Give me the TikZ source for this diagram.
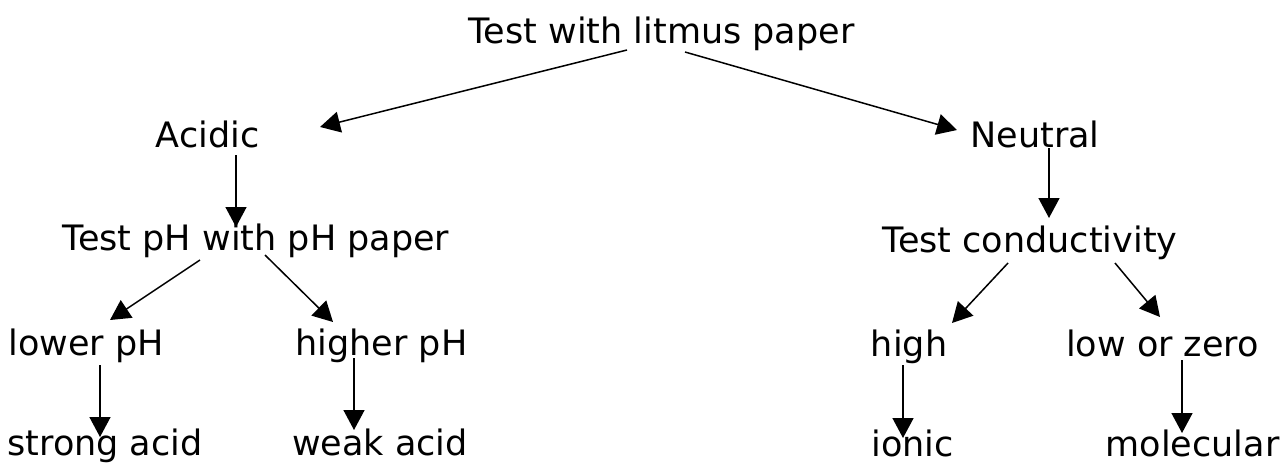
\documentclass[tikz,border=0pt]{standalone}
\usepackage{fontspec}
\setmainfont{DejaVu Sans}
\usetikzlibrary{arrows.meta}
\begin{document}
\begin{tikzpicture}[x=1pt,y=-1pt,
  lbl/.style={anchor=base, inner sep=0pt, font=\fontsize{35}{40}\selectfont},
  arr/.style={line width=1.5pt, -{Triangle[length=20pt,width=21pt]}}]
\useasboundingbox (0,0) rectangle (1281,467);
\node[lbl] (top) at (661.5,43) {Test with litmus paper};
\node[lbl] (acid) at (207.5,147) {Acidic};
\node[lbl] (neut) at (1035,147) {Neutral};
\node[lbl] (tph) at (256,250) {Test pH with pH paper};
\node[lbl] (tcond) at (1030,252) {Test conductivity};
\node[lbl] (lower) at (86,355) {lower pH};
\node[lbl] (higher) at (381.5,355) {higher pH};
\node[lbl] (high) at (909,356) {high};
\node[lbl] (lowz) at (1162.5,356) {low or zero};
\node[lbl] (strong) at (105,455) {strong acid};
\node[lbl] (weak) at (380,455) {weak acid};
\node[lbl] (ionic) at (912.5,456) {ionic};
\node[lbl] (molec) at (1192.5,456) {molecular};
% arrow endpoints
\coordinate (a1s) at (627,50);   \coordinate (a1e) at (320,127);
\coordinate (a2s) at (685,52);   \coordinate (a2e) at (957,130);
\coordinate (a3s) at (236,155);  \coordinate (a3e) at (236,227);
\coordinate (a4s) at (1049,148); \coordinate (a4e) at (1049,218);
\coordinate (a5s) at (200,260);  \coordinate (a5e) at (110,320);
\coordinate (a6s) at (265,255);  \coordinate (a6e) at (333,322);
\coordinate (a7s) at (1008,263); \coordinate (a7e) at (952,323);
\coordinate (a8s) at (1115,263); \coordinate (a8e) at (1160,317);
\coordinate (a9s) at (100,365);  \coordinate (a9e) at (100,437);
\coordinate (a10s) at (354,358); \coordinate (a10e) at (354,430);
\coordinate (a11s) at (903,365); \coordinate (a11e) at (903,438);
\coordinate (a12s) at (1182,360); \coordinate (a12e) at (1182,433);
\draw[arr] (a1s) -- (a1e);
\draw[arr] (a2s) -- (a2e);
\draw[arr] (a3s) -- (a3e);
\draw[arr] (a4s) -- (a4e);
\draw[arr] (a5s) -- (a5e);
\draw[arr] (a6s) -- (a6e);
\draw[arr] (a7s) -- (a7e);
\draw[arr] (a8s) -- (a8e);
\draw[arr] (a9s) -- (a9e);
\draw[arr] (a10s) -- (a10e);
\draw[arr] (a11s) -- (a11e);
\draw[arr] (a12s) -- (a12e);
\end{tikzpicture}
\end{document}
